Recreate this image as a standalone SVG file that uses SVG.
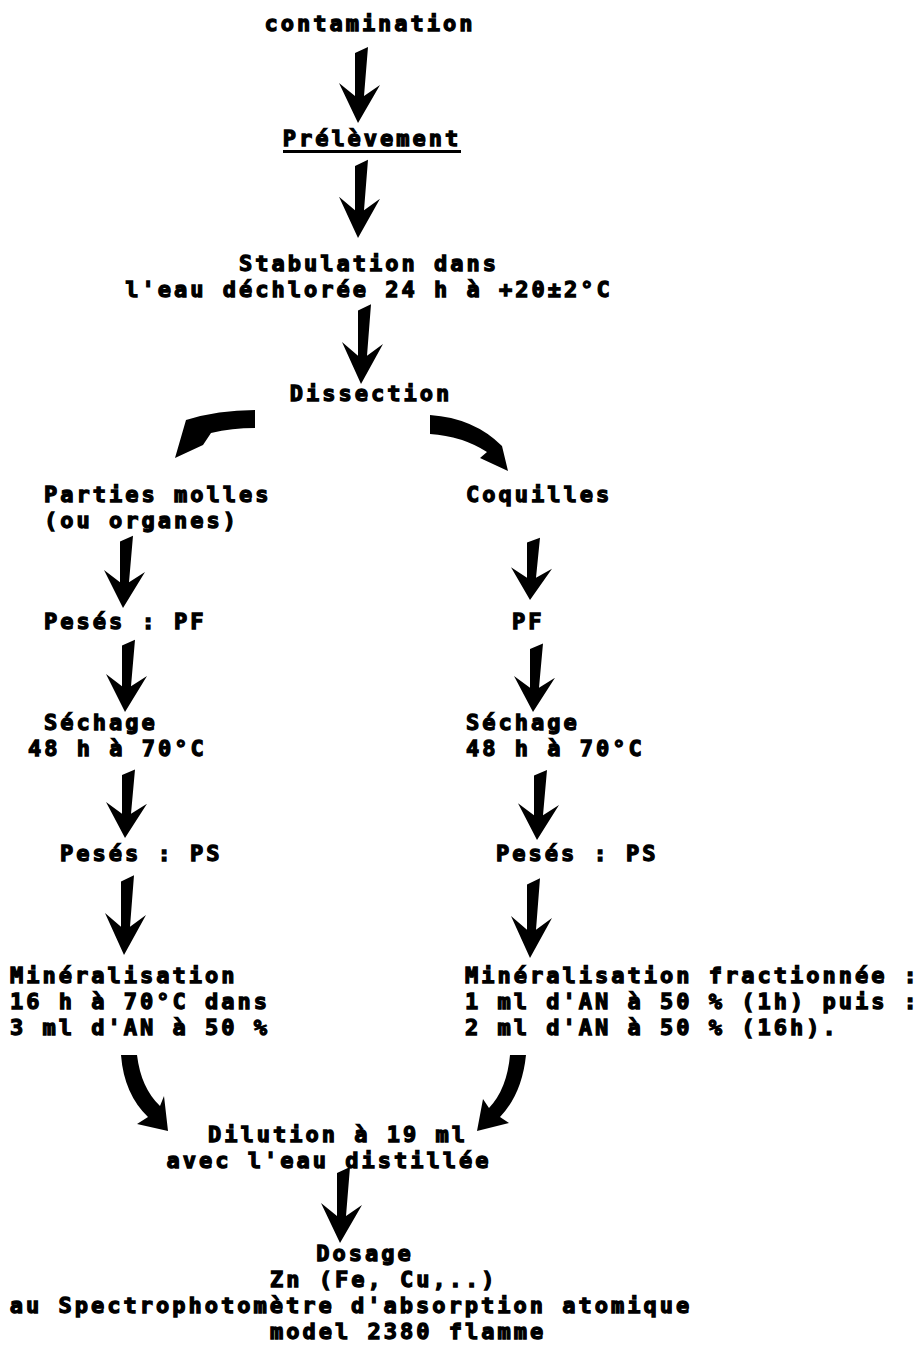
<svg xmlns="http://www.w3.org/2000/svg" xmlns:xlink="http://www.w3.org/1999/xlink" width="918" height="1350" viewBox="0 0 918 1350">
<style>
text{font-family:"DejaVu Sans Mono","Liberation Mono",monospace;font-weight:bold;font-size:22px;letter-spacing:3px;fill:#000;stroke:#000;stroke-width:1.3}
.m{text-anchor:middle}
.arr{fill:#000}
</style>
<defs>
<path id="dn" d="M0,0 L22,-38 L6,-27 L10,-76 L-3,-70 L-3,-27 L-19,-40 Z"/>
</defs>
<rect width="918" height="1350" fill="#fff"/>
<g id="connectors" class="arr">
<use xlink:href="#dn" href="#dn" transform="translate(358,123)"/>
<use xlink:href="#dn" href="#dn" transform="translate(358,238) scale(1,1.03)"/>
<use xlink:href="#dn" href="#dn" transform="translate(361,384) scale(1,1.05)"/>
<path d="M255,410 Q218,410 186,420 L175,458 L203,445 L211,433 Q232,428 255,428 Z"/>
<path d="M430,415 Q474,418 502,446 L508,471 L480,458 L487,452 Q462,436 430,434 Z"/>
<use xlink:href="#dn" href="#dn" transform="translate(123,608) scale(1,0.95)"/>
<use xlink:href="#dn" href="#dn" transform="translate(125,712) scale(1,0.95)"/>
<use xlink:href="#dn" href="#dn" transform="translate(125,838) scale(1,0.9)"/>
<use xlink:href="#dn" href="#dn" transform="translate(124,955) scale(1,1.05)"/>
<use xlink:href="#dn" href="#dn" transform="translate(530,600) scale(1,0.82)"/>
<use xlink:href="#dn" href="#dn" transform="translate(533,712) scale(1,0.9)"/>
<use xlink:href="#dn" href="#dn" transform="translate(537,840) scale(1,0.92)"/>
<use xlink:href="#dn" href="#dn" transform="translate(530,958) scale(1,1.05)"/>
<path d="M121,1055 L137,1055 Q141,1088 160,1106 L164,1096 L168,1131 L137,1124 L148,1117 Q124,1094 121,1055 Z"/>
<path d="M510,1055 L526,1055 Q522,1094 500,1117 L509,1123 L477,1131 L483,1099 L489,1108 Q507,1089 510,1055 Z"/>
<use xlink:href="#dn" href="#dn" transform="translate(340,1243)"/>
</g>
<g id="n-contamination"><text x="370" y="31" class="m">contamination</text></g>
<g id="n-prelevement"><text x="372" y="146" class="m">Prélèvement</text><rect x="283" y="150" width="178" height="3"/></g>
<g id="n-stabulation"><text x="369" y="271" class="m">Stabulation dans</text><text x="369" y="297" class="m">l'eau déchlorée 24 h à +20±2°C</text></g>
<g id="n-dissection"><text x="371" y="401" class="m">Dissection</text></g>
<g id="n-parties"><text x="44" y="502">Parties molles</text><text x="44" y="528">(ou organes)</text></g>
<g id="n-coquilles"><text x="466" y="502">Coquilles</text></g>
<g id="n-pf-left"><text x="44" y="629">Pesés : PF</text></g>
<g id="n-pf-right"><text x="512" y="629">PF</text></g>
<g id="n-sechage-left"><text x="44" y="730">Séchage</text><text x="28" y="756">48 h à 70°C</text></g>
<g id="n-sechage-right"><text x="466" y="730">Séchage</text><text x="466" y="756">48 h à 70°C</text></g>
<g id="n-ps-left"><text x="60" y="861">Pesés : PS</text></g>
<g id="n-ps-right"><text x="496" y="861">Pesés : PS</text></g>
<g id="n-mineral-left"><text x="10" y="983">Minéralisation</text><text x="10" y="1009">16 h à 70°C dans</text><text x="10" y="1035">3 ml d'AN à 50 %</text></g>
<g id="n-mineral-right"><text x="465" y="983">Minéralisation fractionnée :</text><text x="465" y="1009">1 ml d'AN à 50 % (1h) puis :</text><text x="465" y="1035">2 ml d'AN à 50 % (16h).</text></g>
<g id="n-dilution"><text x="338" y="1142" class="m">Dilution à 19 ml</text><text x="329" y="1168" class="m">avec l'eau distillée</text></g>
<g id="n-dosage"><text x="365" y="1261" class="m">Dosage</text><text x="270" y="1287">Zn (Fe, Cu,..)</text><text x="351" y="1313" class="m">au Spectrophotomètre d'absorption atomique</text><text x="270" y="1339">model 2380 flamme</text></g>
</svg>
